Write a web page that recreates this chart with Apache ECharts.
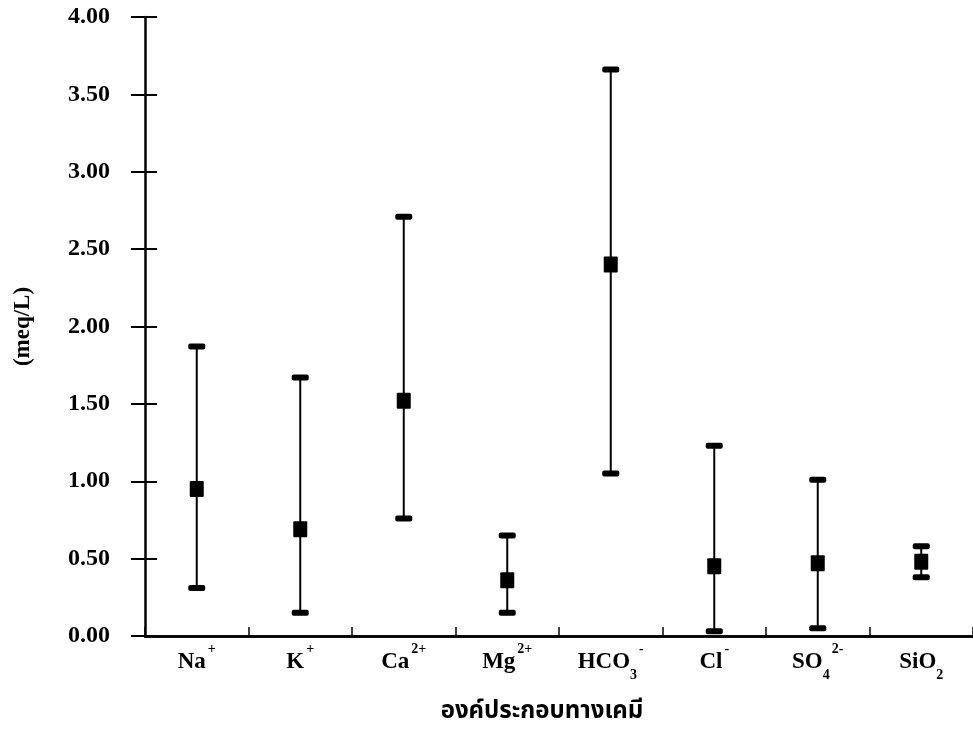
<!DOCTYPE html>
<html>
<head>
<meta charset="utf-8">
<script src="https://cdn.jsdelivr.net/npm/echarts@6/dist/echarts.min.js"></script>
<style>
html, body { margin: 0; padding: 0; background: #fff; }
#main { width: 973px; height: 738px; }
</style>
</head>
<body>
<div id="main"></div>
<script>
// ค่าต่ำสุด / สูงสุด / เฉลี่ย (meq/L)
var categories = ['Na+', 'K+', 'Ca2+', 'Mg2+', 'HCO3-', 'Cl-', 'SO42-', 'SiO2'];
var catLabels = [
    '{b|Na}{sup|+}',
    '{b|K}{sup|+}',
    '{b|Ca}{sup|2+}',
    '{b|Mg}{sup|2+}',
    '{b|HCO}{sub|3}{sup|-}',
    '{b|Cl}{sup|-}',
    '{b|SO}{sub|4}{sup|2-}',
    '{b|SiO}{sub|2}'
];
var minVals = [0.31, 0.15, 0.76, 0.15, 1.05, 0.03, 0.05, 0.38];
var maxVals = [1.87, 1.67, 2.71, 0.65, 3.66, 1.23, 1.01, 0.58];
var meanVals = [0.95, 0.69, 1.52, 0.36, 2.40, 0.45, 0.47, 0.48];

var serif = '"Liberation Serif", "DejaVu Serif", serif';

var data = [];
for (var i = 0; i < categories.length; i++) {
    data.push([i, minVals[i], maxVals[i], meanVals[i]]);
}

var chart = echarts.init(document.getElementById('main'));

var renderBar = function (params, api) {
    var x = api.value(0);
    var lo = api.coord([x, api.value(1)]);
    var hi = api.coord([x, api.value(2)]);
    var mid = api.coord([x, api.value(3)]);
    var cw = 17;
    return {
        type: 'group',
        children: [
            {type: 'line', shape: {x1: hi[0], y1: hi[1], x2: lo[0], y2: lo[1]}, style: {stroke: '#000', lineWidth: 2}},
            {type: 'rect', shape: {x: hi[0] - cw / 2, y: hi[1] - 3, width: cw, height: 6, r: 2}, style: {fill: '#000'}},
            {type: 'rect', shape: {x: lo[0] - cw / 2, y: lo[1] - 3, width: cw, height: 6, r: 2}, style: {fill: '#000'}},
            {type: 'rect', shape: {x: mid[0] - 7, y: mid[1] - 8, width: 14, height: 16, r: 1}, style: {fill: '#000'}}
        ]
    };
};

var option = {
    animation: false,
    backgroundColor: '#fff',
    grid: {left: 145, right: 0, top: 17, bottom: 102, outerBoundsMode: 'none', containLabel: false},
    xAxis: [
        {
            type: 'category',
            data: categories,
            position: 'bottom',
            axisLine: {lineStyle: {color: '#000', width: 2.5}},
            axisTick: {show: true, inside: true, length: 9, interval: 0, lineStyle: {color: '#000', width: 1.5}},
            axisLabel: {
                margin: 6,
                interval: 0,
                formatter: function (v, idx) { return catLabels[idx]; },
                rich: {
                    b: {fontFamily: serif, fontWeight: 'bold', fontSize: 23, color: '#000', lineHeight: 40, verticalAlign: 'middle'},
                    sup: {fontFamily: serif, fontWeight: 'bold', fontSize: 14, color: '#000', verticalAlign: 'top', padding: [0, 0, 0, 2]},
                    sub: {fontFamily: serif, fontWeight: 'bold', fontSize: 14, color: '#000', verticalAlign: 'bottom'}
                }
            },
            name: 'องค์ประกอบทางเคมี',
            nameLocation: 'middle',
            nameGap: 65,
            nameTextStyle: {fontFamily: '"Noto Sans Thai", "Noto Sans", "DejaVu Sans", sans-serif', fontWeight: 'bold', fontSize: 24, color: '#000', padding: [0, 34, 0, 0]}
        },
        {
            type: 'category',
            data: categories,
            position: 'top',
            axisLine: {lineStyle: {color: '#000', width: 2.5}},
            axisTick: {show: false},
            axisLabel: {show: false}
        }
    ],
    yAxis: [
        {
            type: 'value',
            min: 0,
            max: 4,
            interval: 0.5,
            axisLine: {show: true, lineStyle: {color: '#000', width: 2.5}},
            axisTick: {show: true, length: 14, lineStyle: {color: '#000', width: 2}},
            splitLine: {show: false},
            axisLabel: {
                margin: 35,
                fontFamily: serif,
                fontWeight: 'bold',
                fontSize: 24,
                color: '#000',
                formatter: function (v) { return v.toFixed(2); }
            },
            name: '(meq/L)',
            nameLocation: 'middle',
            nameGap: 110,
            nameRotate: 90,
            nameTextStyle: {fontFamily: serif, fontWeight: 'bold', fontSize: 23, color: '#000'}
        },
        {
            type: 'value',
            min: 0,
            max: 4,
            interval: 0.5,
            position: 'left',
            axisLine: {show: false},
            axisTick: {show: true, inside: true, length: 12, lineStyle: {color: '#000', width: 2}},
            splitLine: {show: false},
            axisLabel: {show: false}
        }
    ],
    series: [
        {
            type: 'custom',
            xAxisIndex: 0,
            yAxisIndex: 0,
            renderItem: renderBar,
            encode: {x: 0, y: [1, 2, 3]},
            data: data
        }
    ]
};

chart.setOption(option);
</script>
</body>
</html>
